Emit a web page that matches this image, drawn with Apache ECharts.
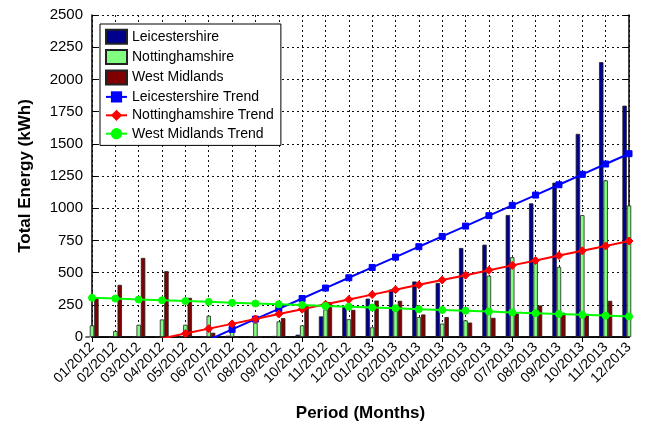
<!DOCTYPE html>
<html>
<head>
<meta charset="utf-8">
<script src="https://cdn.jsdelivr.net/npm/echarts@6/dist/echarts.min.js"></script>
<style>
html,body{margin:0;padding:0;background:#fff;}
#chart{width:648px;height:427px;}
</style>
</head>
<body>
<div id="chart"></div>
<script>
var categories = ["01/2012","02/2012","03/2012","04/2012","05/2012","06/2012","07/2012","08/2012","09/2012","10/2012","11/2012","12/2012",
  "01/2013","02/2013","03/2013","04/2013","05/2013","06/2013","07/2013","08/2013","09/2013","10/2013","11/2013","12/2013"];
var leicestershire = [0,0,0,0,0,0,10,0,8,18,160,240,298,369,431,420,691,717,947,1038,1198,1577,2134,1796];
var nottinghamshire = [90,46,95,136,95,165,50,110,121,90,214,138,75,202,155,104,129,476,620,580,544,946,1216,1021];
var westMidlands = [310,405,614,511,304,33,0,0,147,240,271,211,283,281,175,155,112,149,183,245,188,180,281,null];
var leicTrend = [-423,-343,-262,-182,-102,-22,59,139,219,299,380,460,540,620,701,781,861,942,1022,1102,1182,1263,1343,1423];
var nottTrend = [-124,-87,-49,-11,27,65,102,140,178,216,254,291,329,367,405,443,480,518,556,594,632,669,707,745];
var wmTrend = [304,298,291,285,279,273,266,260,254,248,241,235,229,223,216,210,204,198,191,185,179,173,166,160];
var yTicks = {min:0, max:2500, interval:250};

var FONT = "'Liberation Sans', Arial, Helvetica, sans-serif";
var chart = echarts.init(document.getElementById('chart'), null, {renderer:'canvas'});
var axisLine = {show:true, lineStyle:{color:'#000', width:1.5}};
var tick = {show:true, inside:true, length:5, lineStyle:{color:'#000', width:1}};
var dashed = {show:true, lineStyle:{color:'#111', width:1, type:[2,3]}};
function barS(name, data, color){
  return {name:name, type:'bar', data:data, barWidth:4.4, barGap:'0%', clip:true,
    itemStyle:{color:color, borderColor:'#222', borderWidth:0.8}, emphasis:{disabled:true}};
}
function lineS(name, data, color, symbol, size){
  return {name:name, type:'line', data:data, clip:true, symbol:symbol, symbolSize:size,
    lineStyle:{color:color, width:2}, itemStyle:{color:color, borderColor:color},
    emphasis:{disabled:true}, z:5};
}
chart.setOption({
  animation:false,
  backgroundColor:'#fff',
  textStyle:{fontFamily:FONT},
  grid:{left:92, right:19, top:15, bottom:89, containLabel:false},
  legend:{
    orient:'vertical', left:100, top:24, itemWidth:21, itemHeight:14, itemGap:4.4,
    padding:[4.7,7,4.7,5], borderColor:'#000', borderWidth:1, backgroundColor:'#fff',
    textStyle:{fontFamily:FONT, fontSize:14, color:'#000'},
    data:[{name:'Leicestershire', icon:'rect'},{name:'Nottinghamshire', icon:'rect'},{name:'West Midlands', icon:'rect'},
      'Leicestershire Trend','Nottinghamshire Trend','West Midlands Trend']
  },
  xAxis:[
    {type:'category', data:categories, boundaryGap:false, position:'bottom',
     axisLine:axisLine, axisTick:tick, splitLine:dashed,
     axisLabel:{interval:0, rotate:45, fontSize:14, color:'#000', fontFamily:FONT, margin:8},
     name:'Period (Months)', nameLocation:'middle', nameGap:68,
     nameTextStyle:{fontSize:17, fontWeight:'bold', color:'#000', fontFamily:FONT}},
    {type:'category', data:categories, boundaryGap:false, position:'top',
     axisLine:axisLine, axisTick:tick, axisLabel:{show:false}, splitLine:{show:false}}
  ],
  yAxis:[
    {type:'value', min:yTicks.min, max:yTicks.max, interval:yTicks.interval, position:'left',
     axisLine:axisLine, axisTick:tick, splitLine:dashed,
     axisLabel:{fontSize:15, color:'#000', fontFamily:FONT, margin:9, formatter:function(v){return String(v);}},
     name:'Total Energy (kWh)', nameLocation:'middle', nameGap:58,
     nameTextStyle:{fontSize:17, fontWeight:'bold', color:'#000', fontFamily:FONT}},
    {type:'value', min:yTicks.min, max:yTicks.max, interval:yTicks.interval, position:'right',
     axisLine:axisLine, axisTick:tick, axisLabel:{show:false}, splitLine:{show:false}}
  ],
  series:[
    barS('Leicestershire', leicestershire, '#00008F'),
    barS('Nottinghamshire', nottinghamshire, '#80FF80'),
    barS('West Midlands', westMidlands, '#800000'),
    lineS('Leicestershire Trend', leicTrend, '#0000FF', 'rect', 6),
    lineS('Nottinghamshire Trend', nottTrend, '#FF0000', 'diamond', 8),
    lineS('West Midlands Trend', wmTrend, '#00FF00', 'circle', 7)
  ]
});
</script>
</body>
</html>
